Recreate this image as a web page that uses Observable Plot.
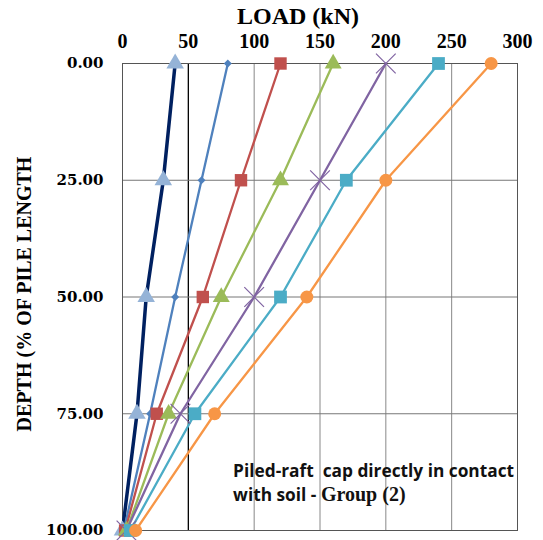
<!DOCTYPE html>
<html><head><meta charset="utf-8">
<script src="https://cdn.jsdelivr.net/npm/d3@7"></script>
<script src="https://cdn.jsdelivr.net/npm/@observablehq/plot@0.6"></script>
<style>
body{margin:0;background:#fff;}
</style>
</head><body><div id="chart"></div>
<script>
const depths = [0, 25, 50, 75, 100];
const seriesNames = ["S1","S2","S3","S4","S5","S6","S7"];
const loads = [
  [40, 31, 18, 11, 0],
  [80, 60, 40, 21, 1],
  [120, 90, 61, 26, 2],
  [160, 120, 75, 35, 3],
  [200, 150, 100, 44, 3],
  [240, 170, 120, 55, 6],
  [280, 200, 140, 70, 10]
];
const lineColors = ["#002060","#4F81BD","#C0504D","#9BBB59","#8064A2","#4BACC6","#F79646"];
const markColors = ["#95B3D7","#4F81BD","#C0504D","#9BBB59","#8064A2","#4BACC6","#F79646"];
const symbols = ["triangle","diamond2","square","triangle","times","square","circle"];
const markSizes = [6.5,3.6,7,6.3,9,7.2,6.5];
const lineWidths = [3.5,2.3,2.3,2.3,2.3,2.3,2.3];
const xTicks = [0,50,100,150,200,250,300];
const yTicks = [0,25,50,75,100];
const xTitle = "LOAD (kN)";
const yTitle = "DEPTH (% OF PILE LENGTH";
const noteLine1 = "Piled-raft  cap directly in contact";
const noteLine2a = "with soil - ";
const noteLine2b = "Group (2)";

const rows = [];
seriesNames.forEach((s,i)=>depths.forEach((d,j)=>rows.push({s, i, depth:d, load:loads[i][j]})));

const marks = [
  Plot.gridX(xTicks.filter(v=>v>0&&v<300&&v!==50), {stroke:"#888", strokeOpacity:1, strokeWidth:1}),
  Plot.gridX([50], {stroke:"#000", strokeOpacity:1, strokeWidth:1.3}),
  Plot.gridY(yTicks.filter(v=>v>0&&v<100), {stroke:"#777", strokeOpacity:1, strokeWidth:1}),
  Plot.frame({stroke:"#555"}),
  // tick labels
  Plot.text(xTicks, {x:d=>d, frameAnchor:"top", text:d=>d3.format("d")(d), dy:-16, lineAnchor:"bottom", textAnchor:"middle", fontSize:20, fontWeight:"bold", fontFamily:"Liberation Serif", fill:"#000"}),
  Plot.text(yTicks, {y:d=>d, frameAnchor:"left", text:d=>d3.format(".2f")(d), dx:-19, lineAnchor:"middle", textAnchor:"end", fontSize:15, fontWeight:"bold", fontFamily:"DejaVu Serif", fill:"#000"}),
  Plot.text([xTitle], {frameAnchor:"top", text:d=>d, dx:-22, dy:-40, lineAnchor:"bottom", fontSize:24, fontWeight:"bold", fontFamily:"Liberation Serif", fill:"#000"}),
  Plot.text([yTitle], {frameAnchor:"left", text:d=>d, rotate:-90, dx:-98, dy:-3, lineAnchor:"middle", textAnchor:"middle", fontSize:20, fontWeight:"bold", fontFamily:"Liberation Serif", fill:"#000"}),
];
seriesNames.forEach((s,i)=>{
  const data = rows.filter(r=>r.i===i);
  marks.push(Plot.line(data, {x:"load", y:"depth", stroke:lineColors[i], strokeWidth:lineWidths[i]}));
});
seriesNames.forEach((s,i)=>{
  const data = rows.filter(r=>r.i===i);
  const sym = symbols[i];
  const opts = {x:"load", y:"depth", symbol:()=>sym, r:markSizes[i]};
  if (sym==="times") Object.assign(opts,{stroke:markColors[i], strokeWidth:1.2, fill:"none"});
  else Object.assign(opts,{fill:markColors[i], stroke:"none"});
  marks.push(Plot.dot(data, opts));
});
marks.push(Plot.text([noteLine1 + "\n" + noteLine2a + noteLine2b], {x:()=>84, y:()=>89.5, text:d=>d, textAnchor:"start", lineAnchor:"middle", fontFamily:"Open Sans", fontWeight:"bold", fontSize:17.3, fill:"#111", lineHeight:1.35}));

const chart = Plot.plot({
  width:543, height:540,
  marginLeft:122, marginRight:26, marginTop:63, marginBottom:10,
  x:{domain:[0,300], axis:null},
  y:{domain:[0,100], reverse:true, axis:null},
  symbol:{type:"identity"},
  marks
});
document.getElementById("chart").appendChild(chart);
// render "Group (2)" in a serif face as in the reference
chart.querySelectorAll("text tspan").forEach(ts=>{
  if (ts.textContent === noteLine2a + noteLine2b) {
    ts.textContent = noteLine2a;
    const t2 = document.createElementNS("http://www.w3.org/2000/svg","tspan");
    t2.setAttribute("font-family","Liberation Serif");
    t2.setAttribute("font-size","20");
    t2.textContent = noteLine2b;
    ts.appendChild(t2);
  }
});
</script>
</body></html>
